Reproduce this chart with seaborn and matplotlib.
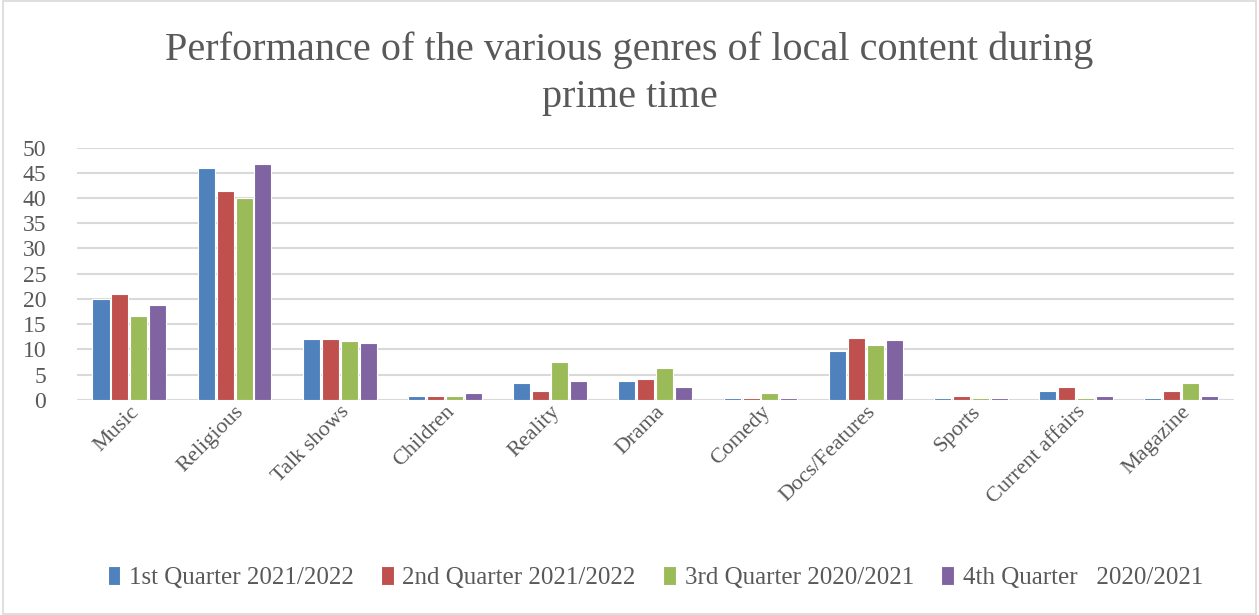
import pandas as pd
import matplotlib.pyplot as plt
import seaborn as sns

genres = ['Music', 'Religious', 'Talk shows', 'Children', 'Reality', 'Drama',
          'Comedy', 'Docs/Features', 'Sports', 'Current affairs', 'Magazine']
quarters = ['1st Quarter 2021/2022', '2nd Quarter 2021/2022',
            '3rd Quarter 2020/2021', '4th Quarter   2020/2021']

q1 = [20.0, 46.0, 12.0, 0.8, 3.3, 3.7, 0.3, 9.7, 0.3, 1.7, 0.3]
q2 = [21.0, 41.3, 12.0, 0.8, 1.7, 4.2, 0.3, 12.2, 0.8, 2.5, 1.7]
q3 = [16.7, 40.0, 11.6, 0.8, 7.5, 6.3, 1.3, 10.9, 0.3, 0.3, 3.3]
q4 = [18.8, 46.8, 11.2, 1.3, 3.7, 2.5, 0.3, 11.8, 0.3, 0.8, 0.8]

colors = ['#4F81BD', '#C0504D', '#9BBB59', '#8064A2']

rows = []
for q, vals in zip(quarters, [q1, q2, q3, q4]):
    for g, v in zip(genres, vals):
        rows.append({'Genre': g, 'Quarter': q, 'Value': v})
df = pd.DataFrame(rows)

sns.set_style('white')
plt.rcParams['font.family'] = ['Liberation Serif', 'DejaVu Serif']
txt = '#595959'

fig = plt.figure(figsize=(12.59, 6.15), dpi=100)
ax = fig.add_axes([0.061, 0.350, 0.919, 0.410])

sns.barplot(data=df, x='Genre', y='Value', hue='Quarter', order=genres,
            hue_order=quarters, palette=colors, saturation=1, width=0.72, gap=0.1,
            edgecolor='white', linewidth=0.8, ax=ax, legend=True)

ax.set_ylim(0, 50)
ax.set_yticks(range(0, 51, 5))
ax.yaxis.grid(True, color='#d9d9d9', linewidth=1.5)
ax.set_axisbelow(True)
for s in ax.spines.values():
    s.set_visible(False)
ax.set_xlabel('')
ax.set_ylabel('')
ax.tick_params(axis='y', labelsize=17, labelcolor=txt, length=0, pad=22)
ax.tick_params(axis='x', labelsize=16, labelcolor=txt, length=0, pad=2)
plt.setp(ax.get_xticklabels(), rotation=45, ha='right', rotation_mode='anchor')

ax.legend(loc='center', bbox_to_anchor=(0.5, -0.705), ncol=4, frameon=False,
          fontsize=18, handlelength=0.5, handleheight=0.8, handletextpad=0.35,
          columnspacing=1.1, labelcolor=txt)

fig.text(0.5, 0.880, 'Performance of the various genres of local content during\nprime time',
         ha='center', va='center', fontsize=29, color=txt, linespacing=1.35)

border = plt.Rectangle((0.002, 0.002), 0.996, 0.996, transform=fig.transFigure,
                       fill=False, edgecolor='#d9d9d9', linewidth=1.2)
fig.patches.append(border)

fig.savefig('out.png', dpi=100)
